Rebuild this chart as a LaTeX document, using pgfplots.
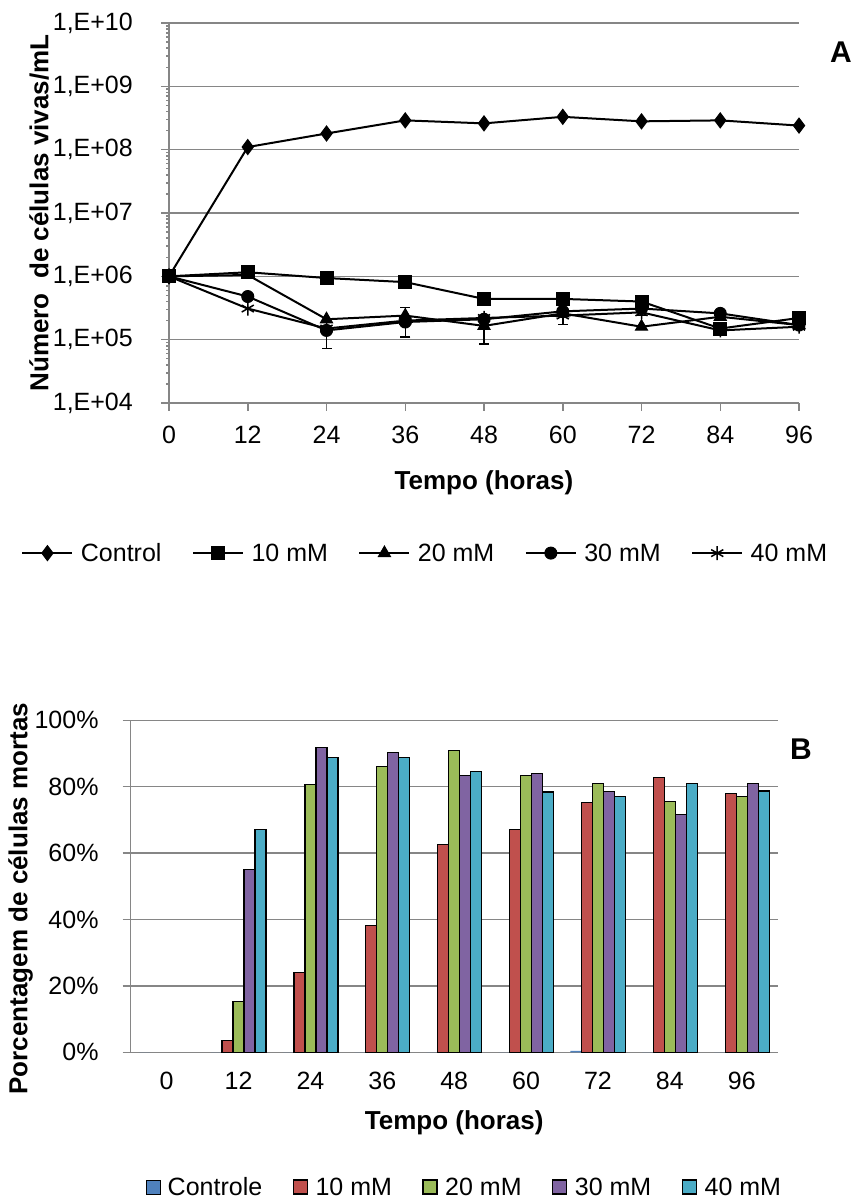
\documentclass[border=0pt]{standalone}
\usepackage{fontspec}
\setmainfont{Liberation Sans}
\usepackage{graphicx}
\usepackage{pgfplots}
\pgfplotsset{compat=1.18}

\definecolor{gridgray}{RGB}{134,134,134}
\definecolor{cctl}{RGB}{79,129,189}
\definecolor{c10}{RGB}{192,80,77}
\definecolor{c20}{RGB}{155,187,89}
\definecolor{c30}{RGB}{128,100,162}
\definecolor{c40}{RGB}{75,172,198}

\newcommand\tfont{\fontsize{25}{29}\selectfont}
\newcommand\lfont{\fontsize{26}{30}\selectfont\bfseries}
\newcommand\gfont{\fontsize{25}{30}\selectfont}

\pgfplotsset{
  excelaxis/.style={
    scale only axis,
    axis lines*=left,
    axis line style={gridgray, line width=1.5pt, -},
    tick align=outside,
    major tick length=8pt,
    tick style={gridgray, line width=1.5pt},
    ymajorgrids,
    grid style={gridgray, line width=1.5pt},
    tick label style={font=\tfont},
    /pgf/number format/assume math mode=true,
    label style={font=\lfont},
    legend cell align=left,
  },
  serie/.style={black, line width=2pt, mark options={solid, fill=black, line width=1pt}},
}

\begin{document}
\begin{tikzpicture}[x=1pt,y=1pt]
\useasboundingbox (0,0) rectangle (855,-1198);

% ---------- A: viable cells ----------
\begin{axis}[
  excelaxis,
  at={(169pt,-403pt)}, anchor=south west,
  width=630pt, height=380pt,
  clip=false,
  ymode=log, ymin=1e4, ymax=1e10,
  xmin=0, xmax=96,
  xtick={0,12,...,96},
  ytick={1e4,1e5,1e6,1e7,1e8,1e9,1e10},
  yticklabels={{1,E+04},{1,E+05},{1,E+06},{1,E+07},{1,E+08},{1,E+09},{1,E+10}},
  xticklabel style={yshift=-12pt},
  yticklabel style={anchor=east, inner sep=0pt, xshift=-28pt},
  xlabel={Tempo (horas)},
  ylabel={Número\ \ de células vivas/mL},
  xlabel style={at={(axis description cs:0.5,-0.21)}, anchor=center},
  ylabel style={at={(axis description cs:-0.206,0.5)}, anchor=center},
  legend image code/.code={\draw[#1, mark repeat=2, mark phase=2] plot coordinates {(0pt,0pt) (25pt,0pt) (50pt,0pt)};},
  legend style={at={(0.408,-0.395)}, anchor=center, draw=none, font=\gfont,
    legend columns=5,
    nodes={inner sep=3.5pt},
    /tikz/every odd column/.append style={column sep=4pt},
    /tikz/every even column/.append style={column sep=27pt}},
]
\addplot[serie, mark=diamond*, mark size=7.5pt] coordinates {
  (0,1e6) (12,1.1e8) (24,1.8e8) (36,2.9e8) (48,2.6e8) (60,3.3e8) (72,2.8e8) (84,2.9e8) (96,2.4e8)};
\addplot[serie, mark=square*, mark size=6.5pt] coordinates {
  (0,1e6) (12,1.16e6) (24,9.4e5) (36,8.1e5) (48,4.4e5) (60,4.4e5) (72,4.0e5) (84,1.5e5) (96,2.2e5)};
\addplot[serie, mark=triangle*, mark size=7pt] coordinates {
  (0,1e6) (12,1.05e6) (24,2.1e5) (36,2.4e5) (48,1.65e5) (60,2.6e5) (72,1.6e5) (84,2.3e5) (96,1.7e5)};
\addplot[serie, mark=*, mark size=6pt] coordinates {
  (0,1e6) (12,4.8e5) (24,1.4e5) (36,1.9e5) (48,2.1e5) (60,2.8e5) (72,3.1e5) (84,2.6e5) (96,1.7e5)};
\addplot[serie, mark=asterisk, mark size=7pt, mark options={line width=1.5pt}] coordinates {
  (0,1e6) (12,3.1e5) (24,1.5e5) (36,2.0e5) (48,2.2e5) (60,2.4e5) (72,2.7e5) (84,1.4e5) (96,1.6e5)};
% error bars
\addplot[black, line width=1.5pt, only marks, mark=none, forget plot,
  error bars/.cd, y dir=both, y explicit,
  error bar style={line width=1.5pt},
  error mark options={rotate=90, mark size=5pt, line width=1.5pt}]
  coordinates {
  (24,1.4e5) += (0,0) -= (0,0.68e5)
  (36,2.4e5) += (0,0.8e5) -= (0,1.3e5)
  (48,1.65e5) += (0,0) -= (0,0.8e5)
  (60,2.4e5) += (0,0.3e5) -= (0,0.65e5)
  (72,2.7e5) += (0,0.4e5) -= (0,0.3e5)
  };
\legend{Control, 10 mM, 20 mM, 30 mM, 40 mM}
\end{axis}
\node[font=\fontsize{30}{36}\selectfont\bfseries] at (841pt,-52pt) {A};

% ---------- B: dead cells ----------
\begin{axis}[
  excelaxis,
  at={(130.7pt,-1052.3pt)}, anchor=south west,
  width=647pt, height=332pt,
  ybar=0pt, bar width=11pt,
  xmin=-0.5, xmax=8.5,
  ymin=0, ymax=100,
  xtick={0,...,8},
  xticklabels={0,12,24,36,48,60,72,84,96},
  major x tick style={draw=none},
  ytick={0,20,...,100},
  yticklabels={0\%,20\%,40\%,60\%,80\%,100\%},
  xticklabel style={yshift=-8pt},
  yticklabel style={anchor=east, inner sep=0pt, xshift=-24pt},
  xlabel={Tempo (horas)},
  ylabel={Porcentagem de células mortas},
  xlabel style={at={(axis description cs:0.5,-0.211)}, anchor=center},
  ylabel style={at={(axis description cs:-0.17,0.463)}, anchor=center},
  legend image code/.code={\draw[#1] (0pt,-7pt) rectangle (14pt,7pt);},
  legend style={at={(0.517,-0.406)}, anchor=center, draw=none, font=\gfont,
    legend columns=5,
    nodes={inner sep=3.5pt},
    /tikz/every odd column/.append style={column sep=4pt},
    /tikz/every even column/.append style={column sep=27pt}},
]
\addplot[fill=cctl, draw=none] coordinates {
  (0,0) (1,0) (2,0) (3,0) (4,0) (5,0) (6,0.4) (7,0) (8,0)};
\addplot[fill=c10, draw=black, line width=1.3pt] coordinates {
  (1,3.5) (2,24.1) (3,38.1) (4,62.6) (5,67.1) (6,75.3) (7,82.8) (8,78.0)};
\addplot[fill=c20, draw=black, line width=1.3pt] coordinates {
  (1,15.3) (2,80.7) (3,86.0) (4,91.0) (5,83.3) (6,80.9) (7,75.6) (8,77.1)};
\addplot[fill=c30, draw=black, line width=1.3pt] coordinates {
  (1,55.1) (2,91.9) (3,90.4) (4,83.3) (5,83.9) (6,78.6) (7,71.6) (8,80.9)};
\addplot[fill=c40, draw=black, line width=1.3pt] coordinates {
  (1,67.2) (2,88.9) (3,88.9) (4,84.5) (5,78.4) (6,77.0) (7,81.0) (8,78.7)};
\legend{Controle, 10 mM, 20 mM, 30 mM, 40 mM}
\end{axis}
\node[font=\fontsize{30}{36}\selectfont\bfseries] at (801pt,-749pt) {B};
\end{tikzpicture}
\end{document}
